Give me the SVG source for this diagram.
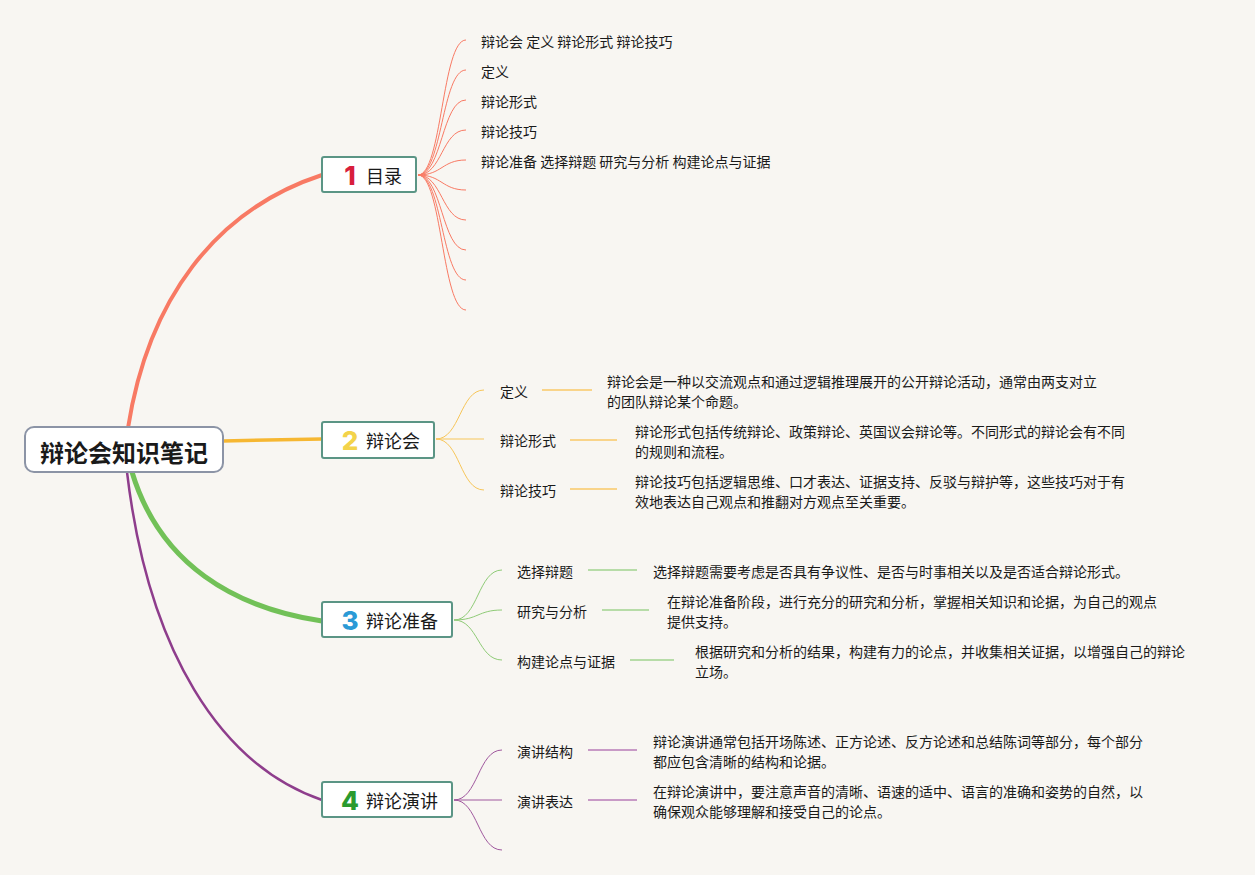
<svg xmlns="http://www.w3.org/2000/svg" width="1255" height="875" viewBox="0 0 1255 875">
<style>
text{font-family:"Noto Sans CJK SC","Noto Sans",sans-serif;fill:#1a1a1a;dominant-baseline:central}
.t{font-size:14px}
.n{font-size:18px}
.num{font-family:"Inter","Liberation Sans",sans-serif;font-weight:800;font-size:26px}
.root{font-size:24px;font-weight:700}
.box{fill:#fff;stroke:#5b9585;stroke-width:2}
.c1{fill:none;stroke:#f87a64;stroke-width:1}
.c2{fill:none;stroke:#f7c65a;stroke-width:1}
.c3{fill:none;stroke:#8fcb77;stroke-width:1}
.c4{fill:none;stroke:#a0589e;stroke-width:1}
.h2{stroke:#f9d48a;stroke-width:2}
.h3{stroke:#b7dca8;stroke-width:2}
.h4{stroke:#c89ac6;stroke-width:2}
</style>
<rect width="1255" height="875" fill="#f8f6f2"/>
<g id="connectors">
<path d="M128 428 C148 300 215 210 322 175" fill="none" stroke="#f87a64" stroke-width="4"/>
<path d="M223 441 L322 439" fill="none" stroke="#f6b732" stroke-width="3.5"/>
<path d="M132 472 C160 565 235 608 322 621" fill="none" stroke="#72c158" stroke-width="5"/>
<path d="M127 472 C148 650 220 765 322 800" fill="none" stroke="#8e3d8c" stroke-width="2.5"/>
<path class="c1" d="M418 175 C442 175 442 40 466 40"/>
<path class="c1" d="M418 175 C442 175 442 70 466 70"/>
<path class="c1" d="M418 175 C442 175 442 100 466 100"/>
<path class="c1" d="M418 175 C442 175 442 130 466 130"/>
<path class="c1" d="M418 175 C442 175 442 160 466 160"/>
<path class="c1" d="M418 175 C442 175 442 190 466 190"/>
<path class="c1" d="M418 175 C442 175 442 220 466 220"/>
<path class="c1" d="M418 175 C442 175 442 250 466 250"/>
<path class="c1" d="M418 175 C442 175 442 280 466 280"/>
<path class="c1" d="M418 175 C442 175 442 310 466 310"/>
<path class="c2" d="M436 439 C460 439 460 390 484 390"/>
<path class="c2" d="M436 439 L484 439"/>
<path class="c2" d="M436 439 C460 439 460 490 484 490"/>
<line class="h2" x1="542" y1="390" x2="592" y2="390"/>
<line class="h2" x1="570" y1="440" x2="617" y2="440"/>
<line class="h2" x1="570" y1="489" x2="617" y2="489"/>
<path class="c3" d="M454 620 C478 620 478 570 502 570"/>
<path class="c3" d="M454 620 C478 620 478 610 502 610"/>
<path class="c3" d="M454 620 C478 620 478 660 502 660"/>
<line class="h3" x1="588" y1="570" x2="637" y2="570"/>
<line class="h3" x1="602" y1="610" x2="649" y2="610"/>
<line class="h3" x1="630" y1="660" x2="674" y2="660"/>
<path class="c4" d="M454 800 C478 800 478 750 502 750"/>
<path class="c4" d="M454 800 L502 800"/>
<path class="c4" d="M454 800 C478 800 478 850 502 850"/>
<line class="h4" x1="588" y1="750" x2="637" y2="750"/>
<line class="h4" x1="588" y1="800" x2="637" y2="800"/>
</g>
<g id="root">
<rect x="25" y="427" width="198" height="45" rx="9" fill="#fff" stroke="#8c94a6" stroke-width="2"/>
<text class="root" x="124" y="451" text-anchor="middle">辩论会知识笔记</text>
</g>
<g id="node1">
<rect class="box" x="322" y="157" width="94" height="35" rx="2"/>
<text class="num" x="350" y="175" text-anchor="middle" style="fill:#d81e3c">1</text>
<text class="n" x="366" y="175">目录</text>
</g>
<g id="node1-children">
<text class="t" x="481" y="41">辩论会 定义 辩论形式 辩论技巧</text>
<text class="t" x="481" y="71">定义</text>
<text class="t" x="481" y="101">辩论形式</text>
<text class="t" x="481" y="131">辩论技巧</text>
<text class="t" x="481" y="161">辩论准备 选择辩题 研究与分析 构建论点与证据</text>
</g>
<g id="node2">
<rect class="box" x="322" y="422" width="112" height="36" rx="2"/>
<text class="num" x="350" y="440" text-anchor="middle" style="fill:#f3d34a">2</text>
<text class="n" x="366" y="440">辩论会</text>
</g>
<g id="node2-children">
<text class="t" x="500" y="391">定义</text>
<text class="t" x="500" y="440">辩论形式</text>
<text class="t" x="500" y="490">辩论技巧</text>
<text class="t" x="607" y="381">辩论会是一种以交流观点和通过逻辑推理展开的公开辩论活动，通常由两支对立</text>
<text class="t" x="607" y="401">的团队辩论某个命题。</text>
<text class="t" x="635" y="431">辩论形式包括传统辩论、政策辩论、英国议会辩论等。不同形式的辩论会有不同</text>
<text class="t" x="635" y="451">的规则和流程。</text>
<text class="t" x="635" y="481">辩论技巧包括逻辑思维、口才表达、证据支持、反驳与辩护等，这些技巧对于有</text>
<text class="t" x="635" y="501">效地表达自己观点和推翻对方观点至关重要。</text>
</g>
<g id="node3">
<rect class="box" x="322" y="602" width="130" height="35" rx="2"/>
<text class="num" x="350" y="620" text-anchor="middle" style="fill:#2b9ad6">3</text>
<text class="n" x="366" y="620">辩论准备</text>
</g>
<g id="node3-children">
<text class="t" x="517" y="571">选择辩题</text>
<text class="t" x="517" y="611">研究与分析</text>
<text class="t" x="517" y="661">构建论点与证据</text>
<text class="t" x="653" y="571">选择辩题需要考虑是否具有争议性、是否与时事相关以及是否适合辩论形式。</text>
<text class="t" x="667" y="601">在辩论准备阶段，进行充分的研究和分析，掌握相关知识和论据，为自己的观点</text>
<text class="t" x="667" y="621">提供支持。</text>
<text class="t" x="695" y="651">根据研究和分析的结果，构建有力的论点，并收集相关证据，以增强自己的辩论</text>
<text class="t" x="695" y="671">立场。</text>
</g>
<g id="node4">
<rect class="box" x="322" y="782" width="130" height="35" rx="2"/>
<text class="num" x="350" y="800" text-anchor="middle" style="fill:#2a9a2e">4</text>
<text class="n" x="366" y="800">辩论演讲</text>
</g>
<g id="node4-children">
<text class="t" x="517" y="751">演讲结构</text>
<text class="t" x="517" y="801">演讲表达</text>
<text class="t" x="653" y="741">辩论演讲通常包括开场陈述、正方论述、反方论述和总结陈词等部分，每个部分</text>
<text class="t" x="653" y="761">都应包含清晰的结构和论据。</text>
<text class="t" x="653" y="791">在辩论演讲中，要注意声音的清晰、语速的适中、语言的准确和姿势的自然，以</text>
<text class="t" x="653" y="811">确保观众能够理解和接受自己的论点。</text>
</g>
</svg>
